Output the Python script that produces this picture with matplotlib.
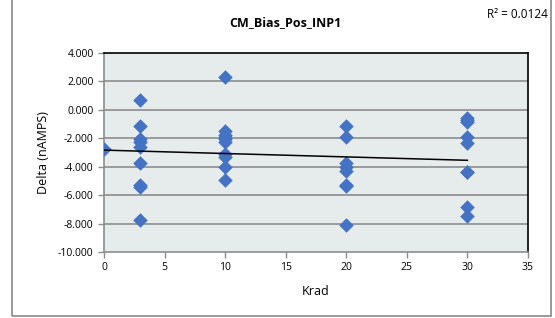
import numpy as np
import matplotlib.pyplot as plt
from matplotlib.patches import Rectangle

plt.rcParams['font.family'] = ['Open Sans', 'DejaVu Sans']

# 数据
krad_0 = [0]
delta_0 = [-2.72]
krad_3 = [3] * 9
delta_3 = [0.68, -1.16, -2.03, -2.27, -2.58, -3.73, -5.26, -5.45, -7.74]
krad_10 = [10] * 10
delta_10 = [2.28, -1.49, -1.75, -1.92, -2.27, -3.10, -3.33, -4.04, -4.91, -2.05]
krad_20 = [20] * 8
delta_20 = [-1.16, -1.92, -3.76, -4.04, -4.32, -5.26, -5.38, -8.07]
krad_30 = [30] * 9
delta_30 = [-0.55, -0.86, -1.92, -2.32, -4.35, -4.40, -6.80, -7.46, -0.70]

x = np.array(krad_0 + krad_3 + krad_10 + krad_20 + krad_30, dtype=float)
y = np.array(delta_0 + delta_3 + delta_10 + delta_20 + delta_30)

fig = plt.figure(figsize=(5.55, 3.18), dpi=100)
ax = fig.add_axes([104 / 555, 1 - 252 / 318, 424 / 555, 199 / 318])

# 外框
fig.patches.append(Rectangle((12 / 555, 1 - 316 / 318), 539 / 555, 330 / 318,
                             transform=fig.transFigure, fill=False,
                             edgecolor='#888888', linewidth=1.2))

ax.set_facecolor('#E6ECEC')
for yy in np.arange(-8, 4, 2):
    ax.axhline(yy, color='#8C8C8C', linewidth=1.2, zorder=1)

ax.scatter(x, y, marker='D', s=55, color='#4472C4', zorder=3, linewidths=0)

# 线性趋势线
k, b = np.polyfit(x, y, 1)
xs = np.array([0, 30])
ax.plot(xs, k * xs + b, color='black', linewidth=1.1, zorder=4)

ax.set_xlim(0, 35)
ax.set_ylim(-10, 4)
ax.set_xticks(np.arange(0, 36, 5))
ax.set_yticks(np.arange(-10, 5, 2))
ax.set_yticklabels(['%.3f' % v for v in np.arange(-10, 5, 2)])

ax.spines['top'].set_color('black')
ax.spines['right'].set_color('black')
ax.spines['left'].set_color('#8C8C8C')
ax.spines['bottom'].set_color('#8C8C8C')
for s in ax.spines.values():
    s.set_linewidth(1.2)
ax.tick_params(axis='both', colors='#8C8C8C', labelcolor='black', labelsize=7.5,
               length=4, width=1)

ax.set_xlabel('Krad', fontsize=9, labelpad=8)
ax.set_ylabel('Delta (nAMPS)', fontsize=9, labelpad=6)
fig.text(285 / 555, 1 - 23 / 318, 'CM_Bias_Pos_INP1', fontsize=9,
         fontweight='bold', ha='center', va='center')
fig.text(548 / 555, 1 - 15 / 318, 'R² = 0.0124', fontsize=8.5, ha='right', va='center')

fig.savefig('out.png', dpi=100)
